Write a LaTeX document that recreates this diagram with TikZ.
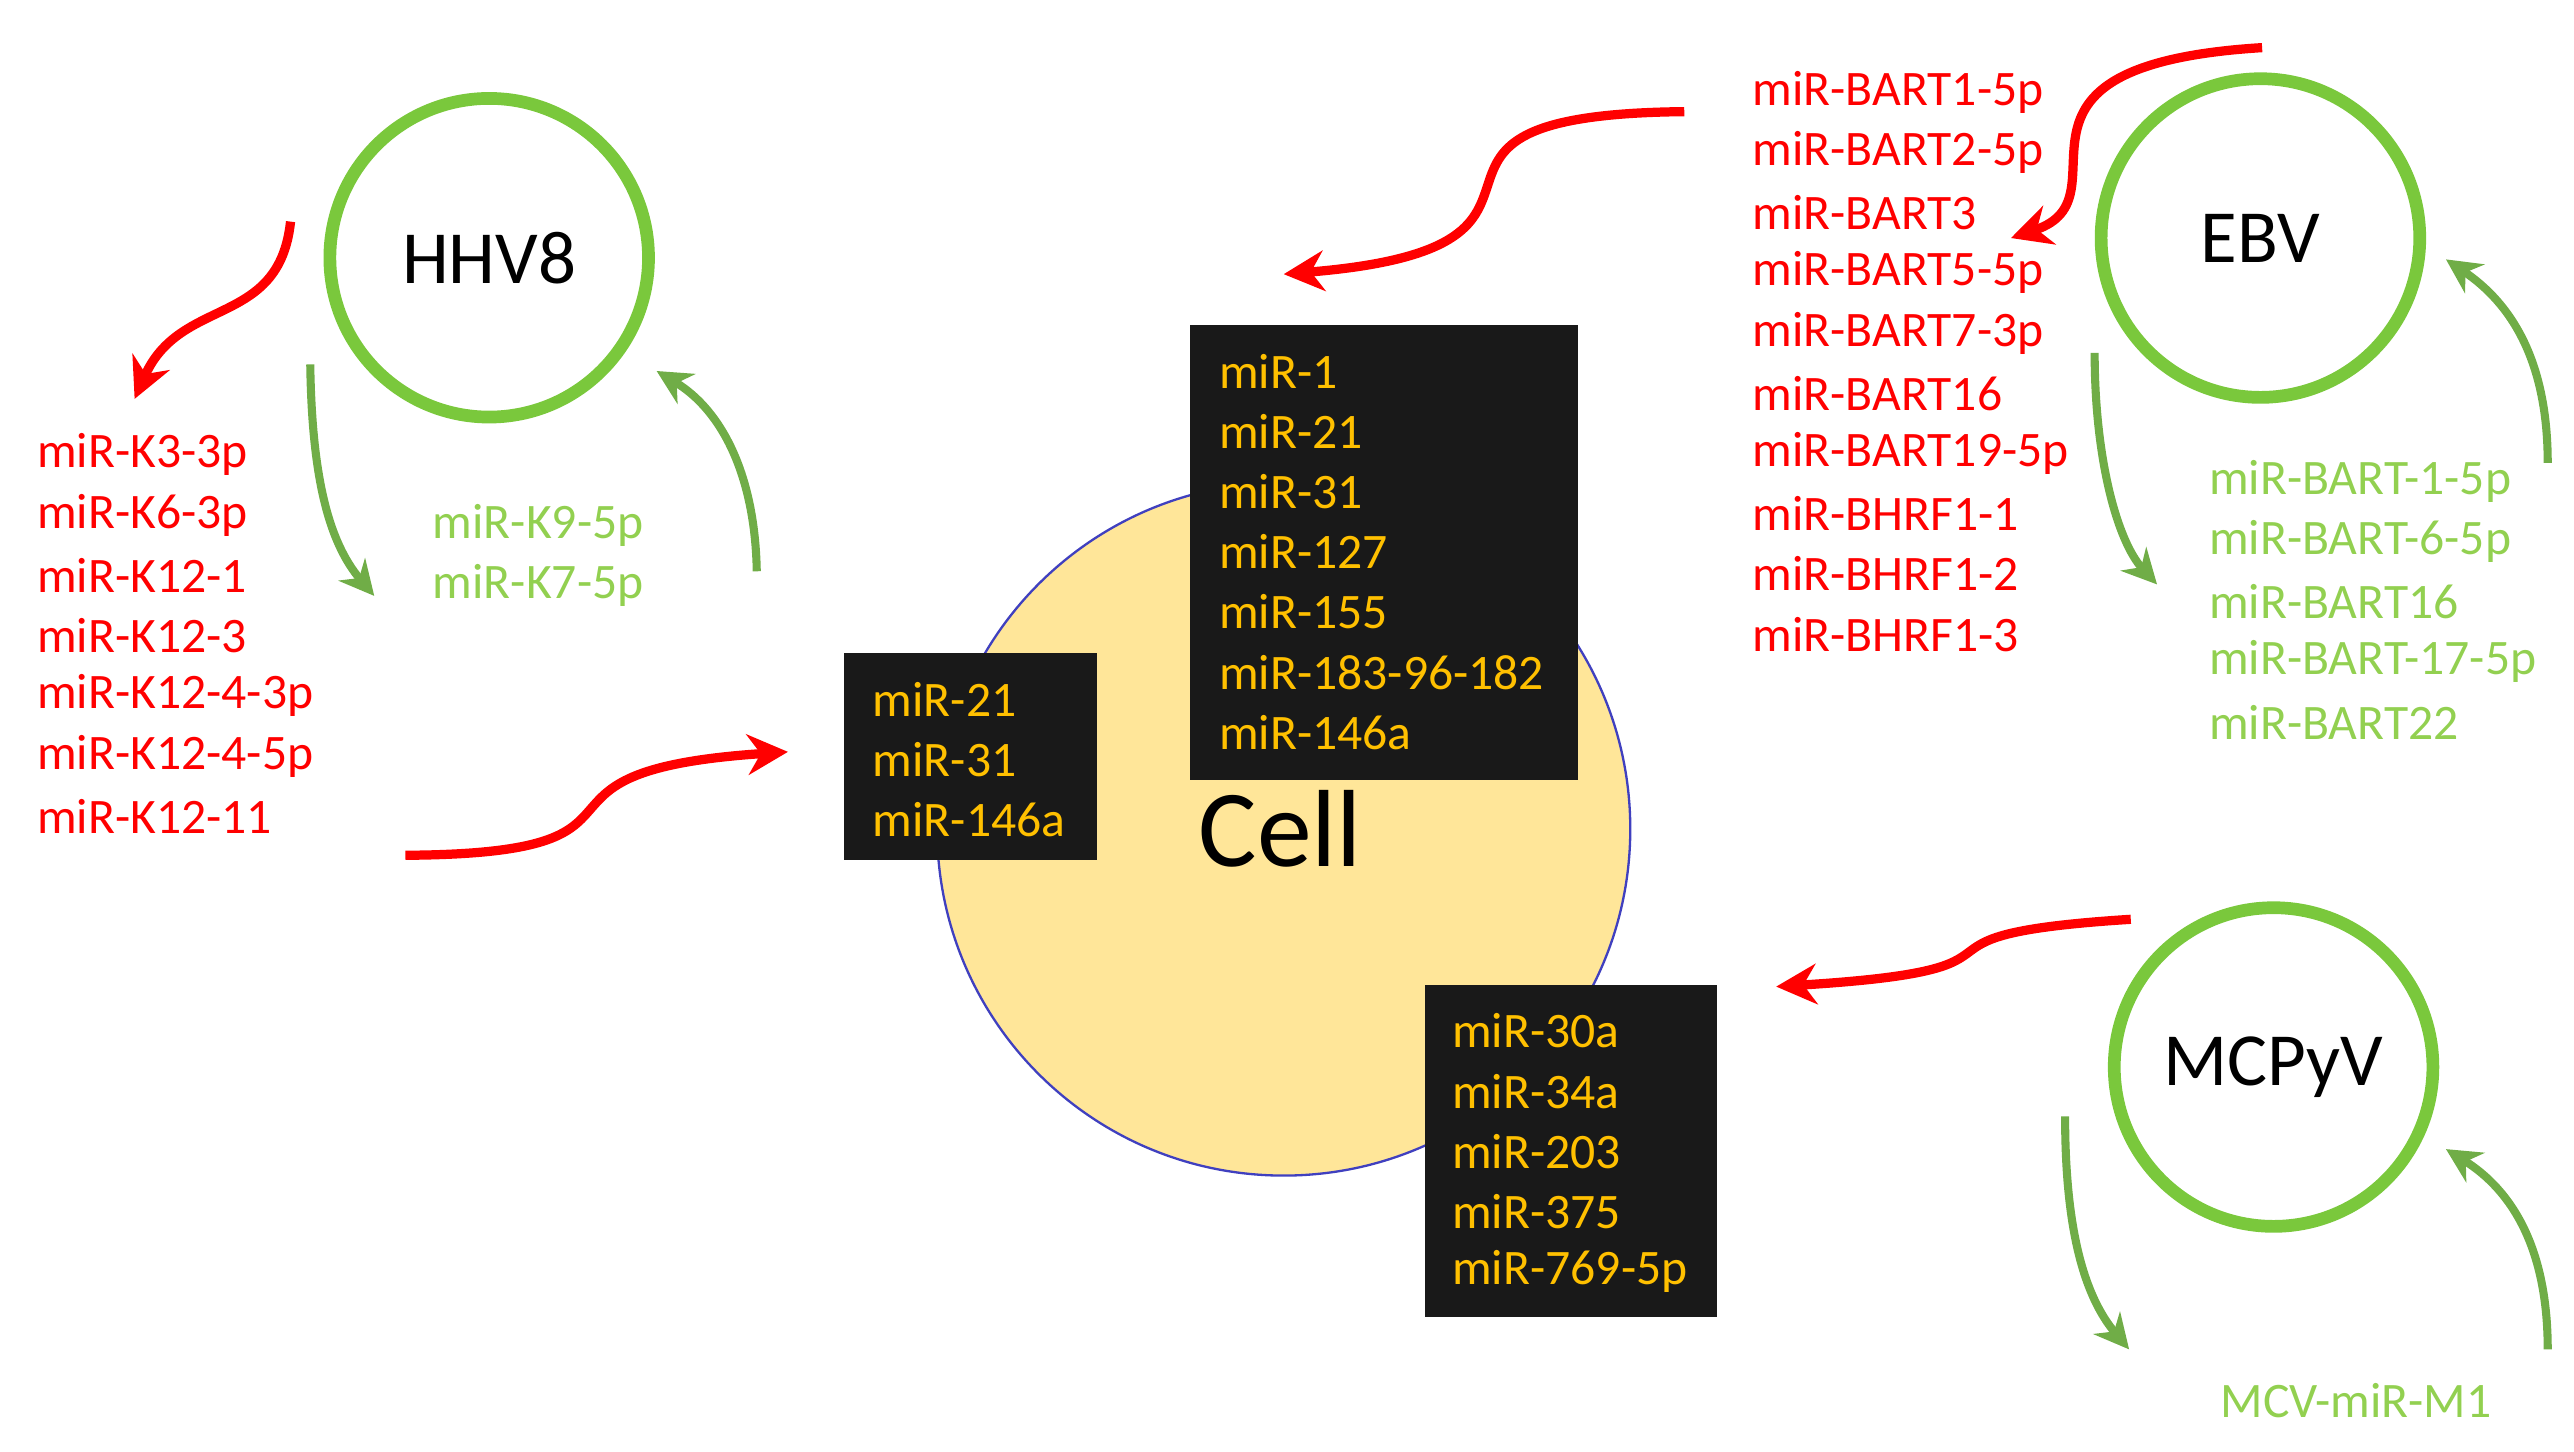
\documentclass[tikz,border=0pt]{standalone}
\usepackage{fontspec}
\setmainfont{Carlito}
\usetikzlibrary{arrows.meta}
\definecolor{mired}{RGB}{255,0,0}
\definecolor{migreen}{RGB}{146,208,80}
\definecolor{virgreen}{RGB}{122,200,60}
\definecolor{cellfill}{RGB}{255,230,153}
\definecolor{mirgold}{RGB}{255,192,0}
\definecolor{arrgreen}{RGB}{112,173,71}
\tikzset{
  virus/.style={circle, draw=virgreen, line width=2.2pt, minimum size=1.94cm, font=\fontsize{13}{15}\selectfont},
  mir list/.style={anchor=west, font=\fontsize{8.6}{10}\selectfont, inner sep=0pt},
  mir box/.style={fill=black!90, draw=none},
  red arrow/.style={draw=mired, line width=1.6pt, -{Stealth[length=7pt,width=7pt]}},
  green arrow/.style={draw=arrgreen, line width=1.4pt, -{Stealth[length=6pt,width=6pt]}}
}
\def\MirList#1#2#3#4{%
  \foreach \m [count=\i from 0] in {#4}
    \node[mir list, text=#3] at (#1, #2+36.7*\i) {\m};
}
\begin{document}
\begin{tikzpicture}[x=0.01cm, y=-0.01cm]
\useasboundingbox (0,0) rectangle (1568,884);
% cell
\node (cell) [circle, draw=blue!50!gray, fill=cellfill, minimum size=4.22cm, thin] at (782,505) {};
\node (celltext) at (780,505) {\fontsize{19}{22}\selectfont Cell};
% boxes
\fill[mir box] (725,198) rectangle (961,475);
\fill[mir box] (514,398) rectangle (668,524);
\fill[mir box] (868,600) rectangle (1046,802);
\MirList{742}{226}{mirgold}{miR-1,miR-21,miR-31,miR-127,miR-155,miR-183-96-182,miR-146a}
\MirList{531}{426}{mirgold}{miR-21,miR-31,miR-146a}
\MirList{884}{628}{mirgold}{miR-30a,miR-34a,miR-203,miR-375,miR-769-5p}
% viruses
\node (hhv) [virus] at (298,157) {HHV8};
\node (ebv) [virus] at (1377,145) {EBV};
\node (mcv) [virus] at (1385,650) {MCPyV};
% lists
\MirList{22}{277}{mired}{miR-K3-3p,miR-K6-3p,miR-K12-1,miR-K12-3,miR-K12-4-3p,miR-K12-4-5p,miR-K12-11}
\MirList{263}{320}{migreen}{miR-K9-5p,miR-K7-5p}
\MirList{1067}{56}{mired}{miR-BART1-5p,miR-BART2-5p,miR-BART3,miR-BART5-5p,miR-BART7-3p,miR-BART16,miR-BART19-5p,miR-BHRF1-1,miR-BHRF1-2,miR-BHRF1-3}
\MirList{1345}{293}{migreen}{miR-BART-1-5p,miR-BART-6-5p,miR-BART16,miR-BART-17-5p,miR-BART22}
\node (mcvmir) [mir list, text=migreen] at (1352,853) {MCV-miR-M1};
% arrow ends
\coordinate (h1) at (177,135); \coordinate (h2) at (82,243);
\coordinate (h3) at (189,222); \coordinate (h4) at (228,363);
\coordinate (h5) at (461,348); \coordinate (h6) at (400,226);
\coordinate (c1) at (247,521); \coordinate (c2) at (480,458);
\coordinate (e1) at (1026,68); \coordinate (e2) at (782,167);
\coordinate (e3) at (1378,29); \coordinate (e4) at (1225,145);
\coordinate (e5) at (1276,215); \coordinate (e6) at (1314,356);
\coordinate (e7) at (1552,282); \coordinate (e8) at (1490,158);
\coordinate (m1) at (1298,560); \coordinate (m2) at (1082,601);
\coordinate (m3) at (1258,680); \coordinate (m4) at (1297,822);
\coordinate (m5) at (1552,822); \coordinate (m6) at (1490,700);
% connectors
\draw[red arrow] (h1) .. controls (170,200) and (110,180) .. (h2);
\draw[red arrow] (c1) .. controls (420,520) and (300,470) .. (c2);
\draw[red arrow] (e1) .. controls (820,70) and (990,150) .. (e2);
\draw[red arrow] (e3) .. controls (1200,40) and (1300,120) .. (e4);
\draw[red arrow] (m1) .. controls (1140,570) and (1260,590) .. (m2);
\draw[green arrow] (h3) .. controls (190,290) and (200,330) .. (h4);
\draw[green arrow] (h5) .. controls (460,290) and (440,250) .. (h6);
\draw[green arrow] (e5) .. controls (1276,280) and (1290,330) .. (e6);
\draw[green arrow] (e7) .. controls (1552,220) and (1530,185) .. (e8);
\draw[green arrow] (m3) .. controls (1258,750) and (1270,790) .. (m4);
\draw[green arrow] (m5) .. controls (1552,760) and (1530,725) .. (m6);
\end{tikzpicture}
\end{document}
